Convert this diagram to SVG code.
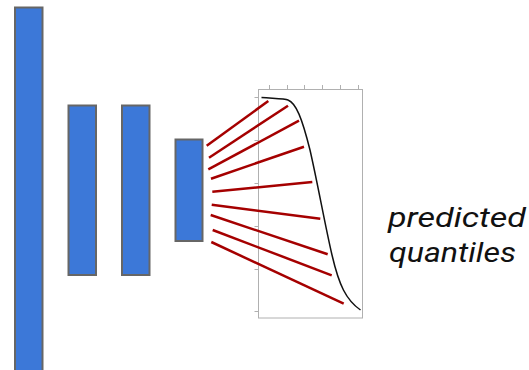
<svg xmlns="http://www.w3.org/2000/svg" width="529" height="370" viewBox="0 0 529 370">
<style>
.bar{fill:#3c78d8;stroke:#666;stroke-width:2}
.ax{fill:none;stroke:#b0b0b0;stroke-width:1}
.q{stroke:#a50000;stroke-width:2.5;stroke-linecap:butt;fill:none}
.lbl{font-family:Roboto,"Liberation Sans",sans-serif;font-style:italic;font-weight:400;font-size:27px;fill:#111}
</style>
<rect width="529" height="370" fill="#fff"/>
<g id="layer1"><rect class="bar" x="15" y="7.5" width="27.5" height="370"/></g>
<g id="layer2"><rect class="bar" x="68.5" y="105.5" width="27.5" height="169.5"/></g>
<g id="layer3"><rect class="bar" x="122" y="105.5" width="27.5" height="169.5"/></g>
<g id="layer4"><rect class="bar" x="175.5" y="139.5" width="27" height="101.5"/></g>
<g id="plot">
<rect class="ax" x="258.5" y="89.5" width="104" height="228.5"/>
<path class="ax" d="M269.5 85V89.5M287.5 85V89.5M304.5 85V89.5M322.5 85V89.5M340.5 85V89.5M358.5 85V89.5M254.5 97.5H258.5M254.5 140.5H258.5M254.5 183.5H258.5M254.5 226.5H258.5M254.5 269.5H258.5M254.5 311.5H258.5"/>
<path d="M261.5 97.5 C275 98.5 285 98.5 288 100 C296 103 302 118 310 150 C318 185 325 225 332 255 C339 285 346 300 360.5 310" fill="none" stroke="#111" stroke-width="1.5"/>
</g>
<g id="connectors">
<line class="q" x1="206.7" y1="145.7" x2="268.3" y2="101"/>
<line class="q" x1="209" y1="157.7" x2="288" y2="105.7"/>
<line class="q" x1="208.3" y1="169.3" x2="299" y2="120.7"/>
<line class="q" x1="211" y1="178.7" x2="304" y2="146.7"/>
<line class="q" x1="212.3" y1="191.7" x2="312.3" y2="182"/>
<line class="q" x1="211.7" y1="204.7" x2="320.3" y2="218.7"/>
<line class="q" x1="210.7" y1="215" x2="327.7" y2="254.3"/>
<line class="q" x1="212.7" y1="230" x2="331.7" y2="275.3"/>
<line class="q" x1="211.3" y1="242" x2="343.7" y2="303.7"/>
</g>
<g id="label">
<text class="lbl" x="388" y="226.5" textLength="138" lengthAdjust="spacingAndGlyphs">predicted</text>
<text class="lbl" x="389" y="261.5" textLength="127" lengthAdjust="spacingAndGlyphs">quantiles</text>
</g>
</svg>
